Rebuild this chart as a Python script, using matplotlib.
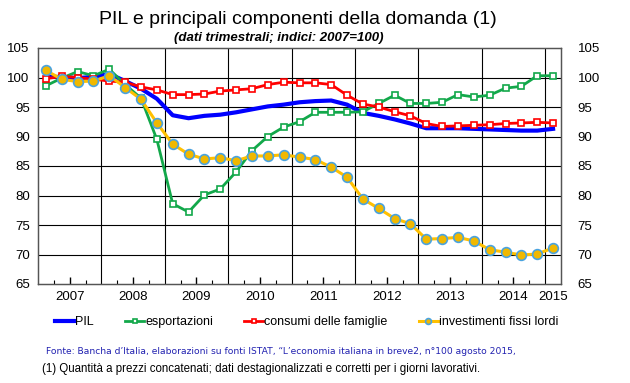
import matplotlib
matplotlib.use("Agg")
import matplotlib.pyplot as plt
import numpy as np

plt.rcParams['font.family'] = ['Liberation Sans', 'DejaVu Sans']

# trimestri 2007Q1 - 2015Q1
anni = ['2007', '2008', '2009', '2010', '2011', '2012', '2013', '2014', '2015']

pil = [100.1, 100.1, 99.9, 100.1, 100.6, 99.4, 98.1, 96.4, 93.6, 93.1, 93.5,
       93.7, 94.1, 94.6, 95.1, 95.4, 95.8, 96.0, 96.1, 95.4, 94.0, 93.5, 92.9,
       92.2, 91.4, 91.4, 91.4, 91.3, 91.2, 91.1, 91.0, 91.0, 91.3]
esportazioni = [98.6, 99.9, 101.0, 100.3, 101.4, 98.8, 96.5, 89.5, 78.6, 77.2,
                80.1, 81.1, 84.0, 87.6, 90.0, 91.6, 92.5, 94.1, 94.1, 94.1, 94.2,
                95.6, 97.0, 95.6, 95.6, 95.8, 97.1, 96.7, 97.0, 98.2, 98.5,
                100.3, 100.3]
consumi = [99.8, 100.2, 100.0, 99.7, 99.4, 99.2, 98.4, 97.9, 97.1, 97.1, 97.2,
           97.7, 97.9, 98.1, 98.8, 99.2, 99.1, 99.1, 98.8, 97.0, 95.5, 95.0,
           94.2, 93.5, 92.2, 91.7, 91.8, 91.9, 92.0, 92.2, 92.3, 92.4, 92.3]
investimenti = [101.2, 99.7, 99.3, 99.4, 100.3, 98.3, 96.3, 92.3, 88.7, 87.0,
                86.2, 86.4, 85.9, 86.7, 86.7, 86.9, 86.5, 86.1, 84.8, 83.1, 79.4,
                77.8, 76.1, 75.2, 72.6, 72.7, 72.9, 72.3, 70.8, 70.4, 69.9, 70.1,
                71.1]

x = np.arange(len(pil)) + 0.5

fig = plt.figure(figsize=(6.3, 3.83), dpi=100)
ax = fig.add_axes([38 / 630, 1 - 284 / 383, 523 / 630, 236 / 383])

# griglia
for v in range(70, 105, 5):
    ax.axhline(v, color='black', lw=0.8, zorder=1)
for q in range(4, 33, 4):
    ax.axvline(q, color='black', lw=0.8, zorder=1)

ax.plot(x, pil, color='#0000ff', lw=3, solid_joinstyle='round', zorder=3,
        label='PIL')
ax.plot(x, esportazioni, color='#12a84a', lw=2, marker='s', ms=5,
        mfc='white', mec='#12a84a', mew=1.2, zorder=4, label='esportazioni')
ax.plot(x, consumi, color='#ff0000', lw=2, marker='s', ms=5,
        mfc='white', mec='#ff0000', mew=1.2, zorder=4,
        label='consumi delle famiglie')
ax.plot(x, investimenti, color='#ffc000', lw=2.2, marker='o', ms=7,
        mfc='#f0b800', mec='#4aa3df', mew=1.2, zorder=5,
        label='investimenti fissi lordi')

ax.set_xlim(0, 33)
ax.set_ylim(65, 105)
ax.set_yticks(range(65, 110, 5))

pos_anni = [2 + 4 * i for i in range(8)] + [32.5]
ax.set_xticks(pos_anni)
ax.set_xticklabels(anni)
ax.set_xticks([q for q in range(1, 33) if q % 2 == 1], minor=True)
ax.tick_params(axis='x', which='major', direction='in', length=5, width=1,
               labelsize=9.5, pad=5)
ax.tick_params(axis='x', which='minor', direction='in', length=3, width=0.8)
ax.xaxis.get_major_ticks()[-1].tick1line.set_visible(False)
ax.tick_params(axis='y', length=0, labelsize=9.5, pad=6)

ax2 = ax.twinx()
ax2.set_ylim(65, 105)
ax2.set_yticks(range(65, 110, 5))
ax2.tick_params(axis='y', length=0, labelsize=9.5, pad=12)

for a in (ax, ax2):
    for s in a.spines.values():
        s.set_color('#555555')
        s.set_linewidth(0.9)

fig.text(0.473, 1 - 20 / 383, 'PIL e principali componenti della domanda (1)',
         ha='center', va='center', fontsize=14)
fig.text(0.443, 1 - 38 / 383, '(dati trimestrali; indici: 2007=100)',
         ha='center', va='center', fontsize=9.5, style='italic',
         weight='bold')

fig.legend(loc='center', bbox_to_anchor=(0.487, 1 - 322 / 383), ncol=4,
           frameon=False, fontsize=9, handlelength=1.5, handletextpad=0.1,
           columnspacing=2.5, markerscale=0.6)

fig.text(46 / 630, 1 - 351 / 383,
         'Fonte: Bancha d\u2019Italia, elaborazioni su fonti ISTAT, \u201cL\u2019economia '
         'italiana in breve2, n\u00b0100 agosto 2015,',
         ha='left', va='center', fontsize=6.6, color='#2020b0',
         family='DejaVu Sans')
fig.text(42 / 630, 1 - 369 / 383,
         '(1) Quantit\u00e0 a prezzi concatenati; dati destagionalizzati e '
         'corretti per i giorni lavorativi.',
         ha='left', va='center', fontsize=8.3)

fig.savefig('out.png', dpi=100)
